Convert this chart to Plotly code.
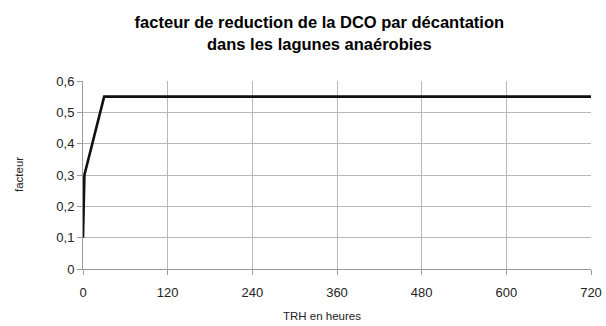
import plotly.graph_objects as go

# Temps de rétention hydraulique (heures) et facteur de réduction de la DCO
trh_heures = [0, 2, 30, 720]
facteur = [0.1, 0.3, 0.55, 0.55]

x_ticks = [0, 120, 240, 360, 480, 600, 720]
y_ticks = [0, 0.1, 0.2, 0.3, 0.4, 0.5, 0.6]

fig = go.Figure()
fig.add_trace(go.Scatter(
    x=trh_heures, y=facteur, mode="lines",
    line=dict(color="#111111", width=2.6),
    showlegend=False, hoverinfo="skip",
))

font_family = "Liberation Sans, Arial, sans-serif"
axis_title_font = dict(family=font_family, size=11.5, color="#222222")

fig.update_layout(
    width=606, height=326,
    margin=dict(l=83, r=15, t=81, b=57),
    paper_bgcolor="white", plot_bgcolor="white",
    separators=", ",
    font=dict(family=font_family, color="#222222", size=12),
    title=dict(
        text="<b>facteur de reduction de la DCO par décantation<br>dans les lagunes anaérobies</b>",
        x=0.527, xanchor="center", y=0.913, yanchor="middle", yref="container",
        font=dict(family=font_family, size=16.5, color="#000000"),
    ),
    xaxis=dict(
        range=[0, 720], tickvals=x_ticks, automargin=False,
        showgrid=True, gridcolor="#b8b8b8", gridwidth=1,
        showline=True, linecolor="#999999", linewidth=1,
        ticks="outside", ticklen=5, tickcolor="#999999",
        ticklabelstandoff=6,
        zeroline=False,
        tickfont=dict(size=13, color="#222222"),
    ),
    yaxis=dict(
        range=[0, 0.6], tickvals=y_ticks, tickformat=".1~f", automargin=False,
        showgrid=True, gridcolor="#b8b8b8", gridwidth=1,
        showline=True, linecolor="#999999", linewidth=1,
        ticks="outside", ticklen=5, tickcolor="#999999",
        zeroline=False,
        tickfont=dict(size=13, color="#222222"),
    ),
    annotations=[
        dict(text="TRH en heures", xref="paper", yref="paper", x=0.47, y=-0.25,
             xanchor="center", yanchor="middle", showarrow=False, font=axis_title_font),
        dict(text="facteur", xref="paper", yref="paper", x=-0.126, y=0.505,
             xanchor="center", yanchor="middle", textangle=-90, showarrow=False,
             font=axis_title_font),
    ],
)

fig.write_html("out.html")
